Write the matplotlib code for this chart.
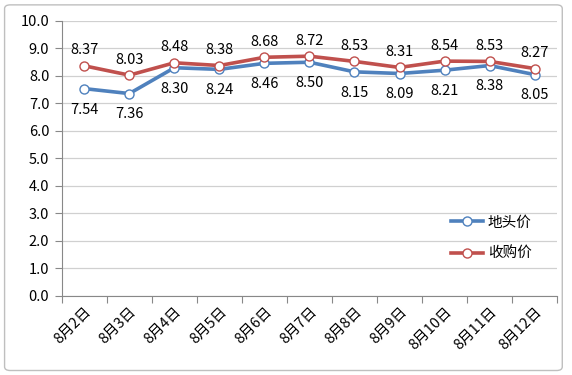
import matplotlib
matplotlib.use("Agg")
import matplotlib.pyplot as plt
from matplotlib.patches import FancyBboxPatch
import numpy as np

plt.rcParams['font.family'] = ['Noto Sans CJK SC', 'DejaVu Sans']

dates = ["8月2日", "8月3日", "8月4日", "8月5日", "8月6日", "8月7日",
         "8月8日", "8月9日", "8月10日", "8月11日", "8月12日"]
ditou = [7.54, 7.36, 8.30, 8.24, 8.46, 8.50, 8.15, 8.09, 8.21, 8.38, 8.05]
shougou = [8.37, 8.03, 8.48, 8.38, 8.68, 8.72, 8.53, 8.31, 8.54, 8.53, 8.27]

BLUE = "#4F81BD"
RED = "#C0504D"
FS = 10.5

fig = plt.figure(figsize=(5.72, 3.75), dpi=100)
# chart area border
fig.patches.append(FancyBboxPatch((0.008, 0.012), 0.975, 0.975,
                                  boxstyle="round,pad=0,rounding_size=0.01",
                                  transform=fig.transFigure, fill=False,
                                  edgecolor="#BFBFBF", linewidth=1.0))

ax = fig.add_axes([0.108, 0.211, 0.866, 0.733])
x = np.arange(len(dates))

ax.plot(x, ditou, color=BLUE, lw=2.6, marker="o", ms=6.5,
        mfc="white", mec=BLUE, mew=1.0, label="地头价", zorder=3)
ax.plot(x, shougou, color=RED, lw=2.6, marker="o", ms=6.5,
        mfc="white", mec=RED, mew=1.0, label="收购价", zorder=4)

for xi, v in zip(x, ditou):
    ax.annotate(f"{v:.2f}", (xi, v), xytext=(0, -10), textcoords="offset points",
                ha="center", va="top", fontsize=FS)
for xi, v in zip(x, shougou):
    ax.annotate(f"{v:.2f}", (xi, v), xytext=(0, 6), textcoords="offset points",
                ha="center", va="bottom", fontsize=FS)

ax.set_xlim(-0.5, len(dates) - 0.5)
ax.set_ylim(0, 10)
ax.set_yticks(np.arange(0, 10.01, 1.0))
ax.set_yticklabels([f"{v:.1f}" for v in np.arange(0, 10.01, 1.0)], fontsize=FS)
ax.yaxis.grid(True, color="#D0D0D0", lw=0.9)
ax.set_axisbelow(True)

# ticks at category boundaries, labels at centers
ax.set_xticks(np.arange(-0.5, len(dates)), minor=False)
ax.set_xticklabels([])
ax.set_xticks(x, minor=True)
ax.set_xticklabels(dates, minor=True, rotation=45, ha="right",
                   rotation_mode="anchor", fontsize=FS)
ax.tick_params(axis="x", which="minor", length=0, pad=6)
ax.tick_params(axis="x", which="major", length=5, color="#888888", direction="out")
ax.tick_params(axis="y", length=5, color="#888888", direction="out", pad=4)

for s in ["top", "right"]:
    ax.spines[s].set_visible(False)
ax.spines["left"].set_color("#888888")
ax.spines["bottom"].set_color("#888888")

ax.legend(loc="upper left", bbox_to_anchor=(0.76, 0.34), frameon=False,
          fontsize=FS, handlelength=2.2, labelspacing=1.2, handletextpad=0.3)

fig.savefig("out.png", dpi=100)
